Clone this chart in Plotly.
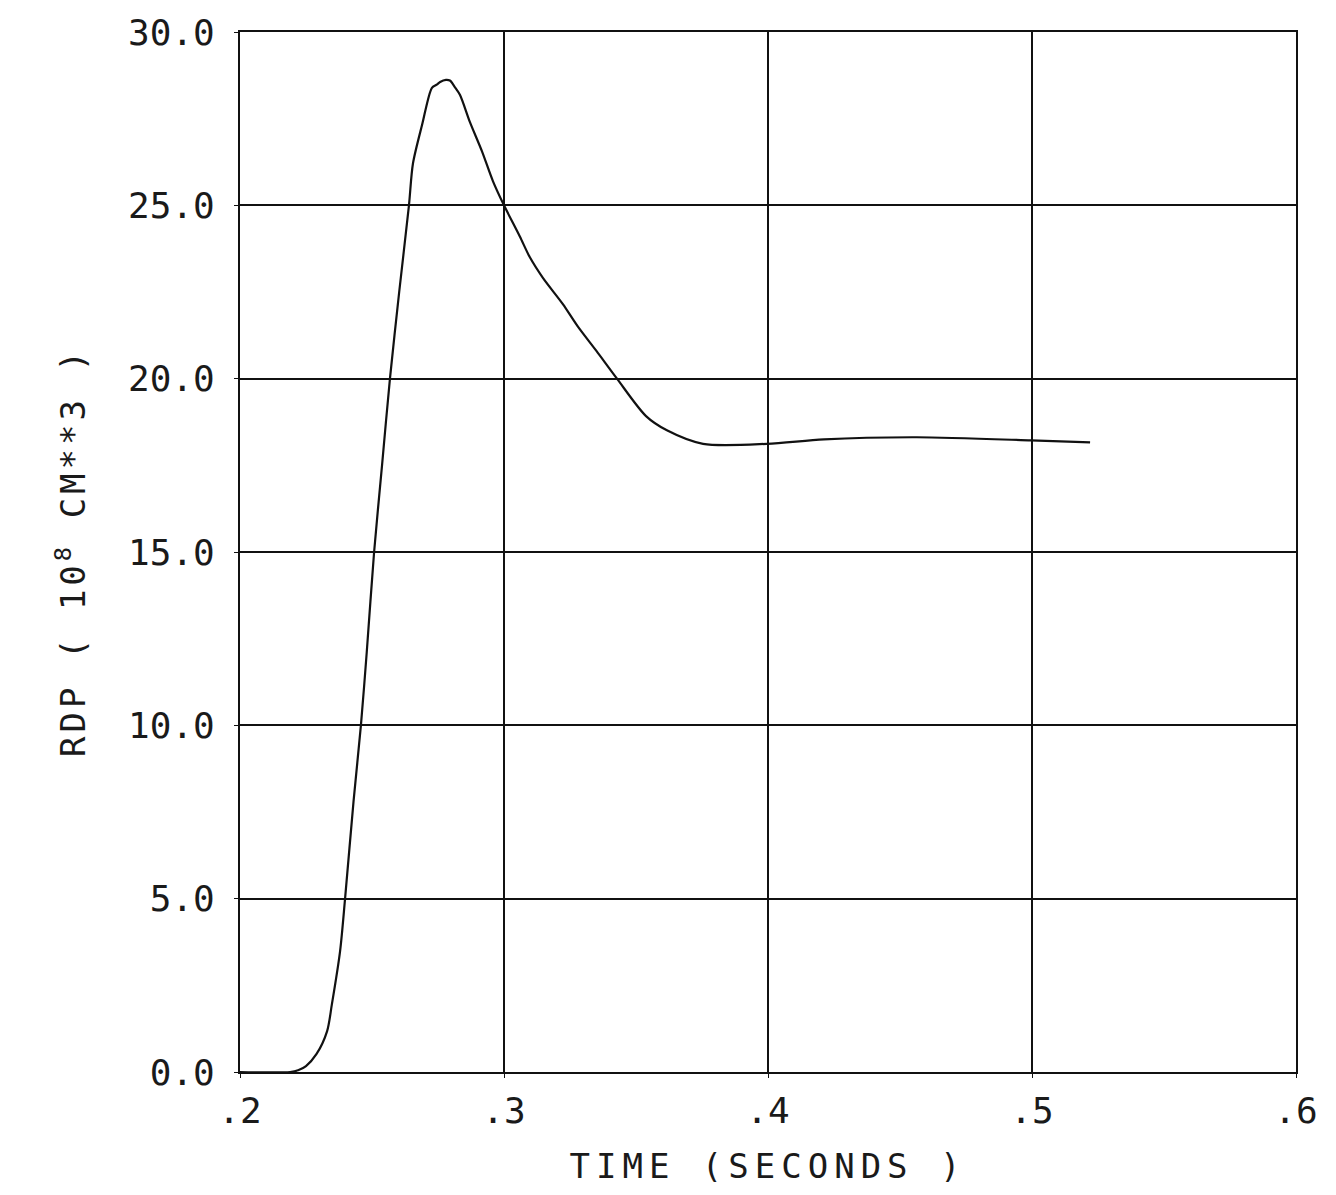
import plotly.graph_objects as go

# Rise and settle of RDP versus time
time_s = [0.200, 0.219, 0.222, 0.225, 0.229, 0.233, 0.2348, 0.2379, 0.2398, 0.243,
          0.2458, 0.248, 0.2508, 0.2538, 0.2568, 0.2603, 0.264, 0.2655, 0.269, 0.2727,
          0.2745, 0.2758, 0.278, 0.2795, 0.2813, 0.2833, 0.2871, 0.2917, 0.2958, 0.300,
          0.306, 0.3098, 0.3148, 0.3223, 0.328, 0.335, 0.3428, 0.3538, 0.3617, 0.3754,
          0.3996, 0.4212, 0.4564, 0.4996, 0.522]
rdp = [0.0, 0.0, 0.05, 0.17, 0.52, 1.18, 1.95, 3.48, 5.0, 7.8,
       10.0, 12.1, 15.0, 17.5, 20.0, 22.5, 25.0, 26.2, 27.33, 28.39,
       28.48, 28.56, 28.62, 28.6, 28.42, 28.19, 27.4, 26.55, 25.7, 25.0,
       24.1, 23.5, 22.9, 22.15, 21.5, 20.8, 20.0, 18.92, 18.51, 18.12,
       18.12, 18.25, 18.31, 18.22, 18.16]

x_ticks = [0.2, 0.3, 0.4, 0.5, 0.6]
x_tick_labels = [".2", ".3", ".4", ".5", ".6"]
y_ticks = [0, 5, 10, 15, 20, 25, 30]
y_tick_labels = ["0.0", "5.0", "10.0", "15.0", "20.0", "25.0", "30.0"]

FONT = "DejaVu Sans Mono"
INK = "#111111"
TEXT = "#1a1a1a"


def spaced(text, px):
    """Wrap a label so its characters get the wide plotter-style pitch."""
    return f"<span style='letter-spacing:{px}px'>{text}</span>"


fig = go.Figure()
fig.add_trace(go.Scatter(
    x=time_s, y=rdp, mode="lines",
    line=dict(color=INK, width=2.2, shape="spline", smoothing=0.8),
    showlegend=False, hoverinfo="skip",
))

axis_common = dict(
    showline=True, linecolor=INK, linewidth=2, mirror=True,
    showgrid=True, gridcolor=INK, gridwidth=2,
    zeroline=False, ticks="outside", ticklen=4, tickcolor=INK,
    tickfont=dict(family=FONT, size=36, color=TEXT),
)

fig.update_xaxes(
    range=[0.2, 0.6], tickvals=x_ticks, ticktext=x_tick_labels,
    ticklabelstandoff=2,
    title=dict(text=spaced("TIME (SECONDS )", 6), standoff=24,
               font=dict(family=FONT, size=34, color=TEXT)),
    **axis_common,
)
fig.update_yaxes(
    range=[0, 30], tickvals=y_ticks, ticktext=y_tick_labels,
    ticklabelstandoff=12,
    title=dict(text=spaced("RDP ( 10<sup>8</sup> CM**3 )", 4), standoff=32,
               font=dict(family=FONT, size=34, color=TEXT)),
    **axis_common,
)

fig.update_layout(
    width=1336, height=1195,
    margin=dict(l=240, r=40, t=27, b=123),
    paper_bgcolor="white", plot_bgcolor="white",
)

fig.write_html("out.html")
